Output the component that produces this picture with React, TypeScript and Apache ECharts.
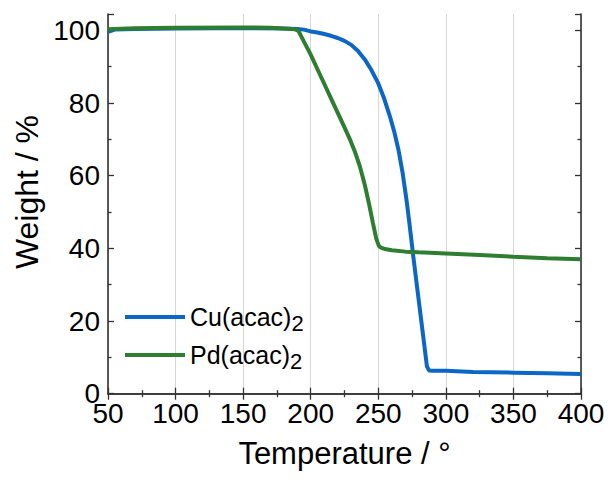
import React, { useEffect, useRef } from "react";
import * as echarts from "echarts";

const xTicks = [50, 100, 150, 200, 250, 300, 350, 400];
const yTicks = [0, 20, 40, 60, 80, 100];

const cuTemp = [50, 55, 70, 100, 130, 160, 180, 190, 195, 200, 205, 210, 215, 220, 225, 230, 235, 240, 245, 250, 254, 258.7, 262, 265, 268, 271, 273, 276, 279, 282, 284.5, 286, 287.5, 290, 300, 320, 350, 375, 400];
const cuWeight = [99.6, 100.2, 100.4, 100.5, 100.6, 100.6, 100.5, 100.4, 100.2, 99.7, 99.4, 99.0, 98.5, 97.9, 97.1, 96.0, 94.3, 92.0, 89.0, 85.4, 81.6, 76.2, 71.8, 67.0, 60.8, 53.0, 47.0, 37.5, 28.5, 19.5, 12.0, 7.5, 6.4, 6.3, 6.3, 6.0, 5.8, 5.6, 5.4];

const pdTemp = [50, 70, 100, 150, 170, 180, 186, 189, 191, 195, 200, 205, 210, 215, 220, 225, 229, 233, 236.5, 240, 243, 246, 248.5, 250.5, 252, 255, 260, 270, 280, 300, 325, 350, 375, 400];
const pdWeight = [100.3, 100.6, 100.7, 100.8, 100.7, 100.5, 100.4, 100.2, 99.8, 96.9, 93.3, 89.3, 85.3, 81.3, 77.3, 73.3, 70.0, 66.3, 62.4, 57.5, 52.5, 47.0, 42.7, 40.6, 40.2, 39.8, 39.5, 39.1, 38.9, 38.6, 38.2, 37.7, 37.3, 37.0];

const seriesNames = ["Cu(acac)2", "Pd(acac)2"];
const seriesColors = ["#0b66c6", "#2e7e31"];

const FONT = "Liberation Sans, Arial, sans-serif";

export default function App() {
  const ref = useRef<HTMLDivElement>(null);
  useEffect(() => {
    if (!ref.current) return;
    const chart = echarts.init(ref.current, null, { renderer: "svg" });
    const cuData = cuTemp.map((t, i) => [t, cuWeight[i]]);
    const pdData = pdTemp.map((t, i) => [t, pdWeight[i]]);
    const axisLine = { show: true, lineStyle: { color: "#333", width: 1.6 } };
    const axisTick = { show: true, inside: true, length: 6, lineStyle: { color: "#333", width: 1.3 } };
    const minorTick = { show: true, splitNumber: 2, length: 3.5, lineStyle: { color: "#333", width: 1.3 } };
    const xBase = { type: "value", min: 50, max: 400, interval: 50 };
    const yBase = { type: "value", min: 0, max: 104.5, interval: 20 };
    chart.setOption({
      animation: false,
      backgroundColor: "#fff",
      grid: { left: 108, right: 31, top: 14, bottom: 87.3, containLabel: false },
      xAxis: [
        {
          ...xBase,
          position: "bottom",
          axisLine,
          axisTick,
          minorTick,
          splitLine: { show: true, lineStyle: { color: "#d6d6d6", width: 1 } },
          axisLabel: { fontSize: 28, color: "#000", fontFamily: FONT, margin: 6, formatter: (v: number) => (xTicks.includes(v) ? String(v) : "") },
          name: "Temperature / °",
          nameLocation: "middle",
          nameGap: 44,
          nameTextStyle: { fontSize: 31, color: "#000", fontFamily: FONT },
        },
        {
          ...xBase,
          position: "top",
          axisLine,
          axisTick,
          minorTick,
          splitLine: { show: false },
          axisLabel: { show: false },
        },
      ],
      yAxis: [
        {
          ...yBase,
          position: "left",
          axisLine,
          axisTick,
          minorTick,
          splitLine: { show: false },
          axisLabel: { fontSize: 28, color: "#000", fontFamily: FONT, margin: 8, formatter: (v: number) => (yTicks.includes(v) ? String(v) : "") },
        },
        {
          ...yBase,
          position: "right",
          axisLine,
          axisTick,
          minorTick,
          splitLine: { show: false },
          axisLabel: { show: false },
        },
      ],
      legend: {
        orient: "vertical",
        left: 120,
        top: 295,
        itemWidth: 60,
        itemHeight: 14,
        itemGap: 4,
        icon: "path://M0,0 L60,0 L60,4 L0,4 Z",
        formatter: (name: string) => {
          const base = name.slice(0, -1);
          const sub = name.slice(-1);
          return `{a|${base}}{b|${sub}}`;
        },
        textStyle: {
          color: "#000",
          fontFamily: FONT,
          rich: {
            a: { fontSize: 25, fontFamily: FONT, color: "#000", lineHeight: 26 },
            b: { fontSize: 22, fontFamily: FONT, color: "#000", lineHeight: 26, padding: [12, 0, 0, 0] },
          },
        },
        data: seriesNames,
      },
      graphic: [
        {
          type: "text",
          x: 27,
          y: 192,
          rotation: Math.PI / 2,
          style: {
            text: "Weight / %",
            fontSize: 32,
            fontFamily: FONT,
            fill: "#000",
            align: "center",
            verticalAlign: "middle",
          },
        },
      ],
      series: [
        {
          name: seriesNames[0],
          type: "line",
          data: cuData,
          showSymbol: false,
          symbol: "none",
          color: seriesColors[0],
          lineStyle: { width: 4, color: seriesColors[0] },
          z: 2,
        },
        {
          name: seriesNames[1],
          type: "line",
          data: pdData,
          showSymbol: false,
          symbol: "none",
          color: seriesColors[1],
          lineStyle: { width: 4, color: seriesColors[1] },
          z: 3,
        },
      ],
    });
    return () => chart.dispose();
  }, []);
  return <div ref={ref} style={{ position: "absolute", left: 0, top: 0, width: 612, height: 481 }} />;
}
